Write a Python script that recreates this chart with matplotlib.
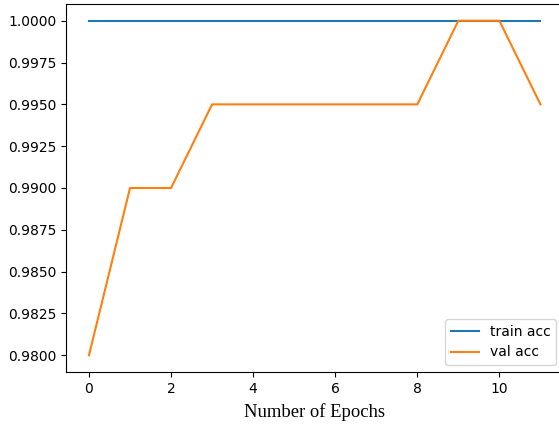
import matplotlib
matplotlib.use('Agg')
import matplotlib.pyplot as plt

epochs = list(range(12))
train_acc = [1.0] * 12
val_acc = [0.98, 0.99, 0.99, 0.995, 0.995, 0.995, 0.995, 0.995, 0.995, 1.0, 1.0, 0.995]

fig = plt.figure(figsize=(5.59, 4.25), dpi=100)
# the axes run slightly past the right edge of the canvas
ax = fig.add_axes([66.4 / 559, 1 - 372 / 425, (563 - 66.4) / 559, (372 - 4) / 425])
ax.plot(epochs, train_acc, label='train acc')
ax.plot(epochs, val_acc, label='val acc')
ax.set_xlabel('Number of Epochs', fontfamily='Liberation Serif', fontsize=13.4, labelpad=5)
ax.legend(loc='lower right')
ax.yaxis.set_major_formatter(matplotlib.ticker.FormatStrFormatter('%.4f'))

fig.savefig('out.png', dpi=100)
